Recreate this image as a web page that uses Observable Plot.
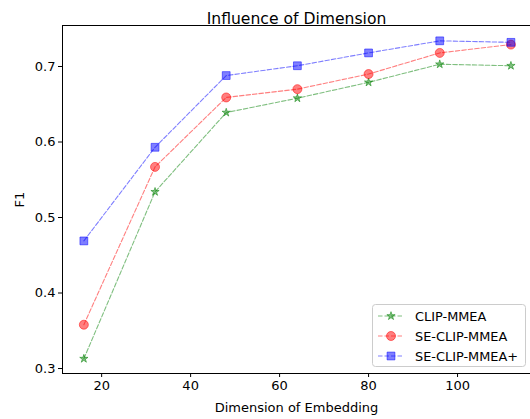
<!DOCTYPE html>
<html><head><meta charset="utf-8">
<script src="https://cdn.jsdelivr.net/npm/d3@7"></script>
<script src="https://cdn.jsdelivr.net/npm/@observablehq/plot@0.6"></script>
<style>
body{margin:0;background:#fff}
#chart{position:relative;width:530px;height:419px}
#chart svg{position:absolute;left:0;top:0}
</style>
</head><body><div id="chart"></div>
<script>
const dims = [16, 32, 48, 64, 80, 96, 112];
const clipMMEA = [0.313, 0.534, 0.639, 0.658, 0.679, 0.703, 0.701];
const seClipMMEA = [0.358, 0.567, 0.659, 0.670, 0.690, 0.718, 0.729];
const seClipMMEAPlus = [0.469, 0.593, 0.688, 0.701, 0.718, 0.734, 0.732];
const seriesNames = ["CLIP-MMEA", "SE-CLIP-MMEA", "SE-CLIP-MMEA+"];
const seriesColors = ["#008000", "#ff0000", "#0000ff"];
const seriesSymbols = ["star", "circle", "square"];
const seriesR = [2.6, 4.5, 4.4];
const xTicks = [20, 40, 60, 80, 100];
const yTicks = [0.3, 0.4, 0.5, 0.6, 0.7];
const titleText = "Influence of Dimension";
const xLabel = "Dimension of Embedding";
const yLabel = "F1";

const allValues = [clipMMEA, seClipMMEA, seClipMMEAPlus];
const rows = [];
allValues.forEach((vals, si) => vals.forEach((v, i) => rows.push({series: seriesNames[si], si, x: dims[i], y: v})));

const font = "DejaVu Sans";
const fs = 13;
const lineMarks = seriesNames.map((name, si) =>
  Plot.line(rows.filter(d => d.si === si), {x: "x", y: "y", stroke: seriesColors[si], strokeOpacity: 0.5, strokeWidth: 1.1, strokeDasharray: "4.5,2"}));
const dotMarks = seriesNames.map((name, si) =>
  Plot.dot(rows.filter(d => d.si === si), {x: "x", y: "y", symbol: () => seriesSymbols[si], r: seriesR[si], fill: seriesColors[si], fillOpacity: 0.5, stroke: seriesColors[si], strokeOpacity: 0.5, strokeWidth: 1}));

const plot = Plot.plot({
  width: 530, height: 419,
  marginLeft: 62, marginRight: 0, marginTop: 25, marginBottom: 46,
  style: {fontFamily: font, fontSize: fs + "px", color: "black", background: "white", overflow: "visible"},
  x: {domain: [11.2, 116.4]},
  y: {domain: [0.2934, 0.7543]},
  symbol: {type: "identity"},
  marks: [
    Plot.axisX({ticks: xTicks, tickSize: 4, tickPadding: 3, label: xLabel, labelAnchor: "center", labelArrow: "none", labelOffset: 38, fontSize: fs}),
    Plot.axisY({ticks: yTicks, tickSize: 4, tickPadding: 3, tickFormat: d => d.toFixed(1), label: yLabel, labelAnchor: "center", labelArrow: "none", labelOffset: 48, fontSize: fs}),
    ...lineMarks,
    ...dotMarks,
    Plot.frame({stroke: "black", strokeWidth: 1}),
    Plot.text([titleText], {frameAnchor: "top", dy: -13, fontSize: 15.6, fill: "black"})
  ]
});
document.getElementById("chart").appendChild(plot);

// legend overlay
const leg = d3.select("#chart").append("svg").attr("width", 530).attr("height", 419);
leg.append("rect").attr("x", 372.5).attr("y", 304.5).attr("width", 153).attr("height", 62).attr("rx", 3)
  .attr("fill", "white").attr("fill-opacity", 0.8).attr("stroke", "#cccccc");
const symMap = {star: d3.symbolStar, circle: d3.symbolCircle, square: d3.symbolSquare};
seriesNames.forEach((name, si) => {
  const y = 316 + si * 20;
  leg.append("line").attr("x1", 378).attr("x2", 404).attr("y1", y).attr("y2", y)
    .attr("stroke", seriesColors[si]).attr("stroke-opacity", 0.5).attr("stroke-width", 1.1).attr("stroke-dasharray", "4.5,2");
  leg.append("path").attr("d", d3.symbol(symMap[seriesSymbols[si]], Math.PI * seriesR[si] * seriesR[si])())
    .attr("transform", `translate(391,${y})`).attr("fill", seriesColors[si]).attr("fill-opacity", 0.5)
    .attr("stroke", seriesColors[si]).attr("stroke-opacity", 0.5);
  leg.append("text").attr("x", 415).attr("y", y).attr("dy", "0.35em").attr("font-family", font).attr("font-size", 12.9)
    .attr("fill", "black").text(name);
});
</script>
</body></html>
